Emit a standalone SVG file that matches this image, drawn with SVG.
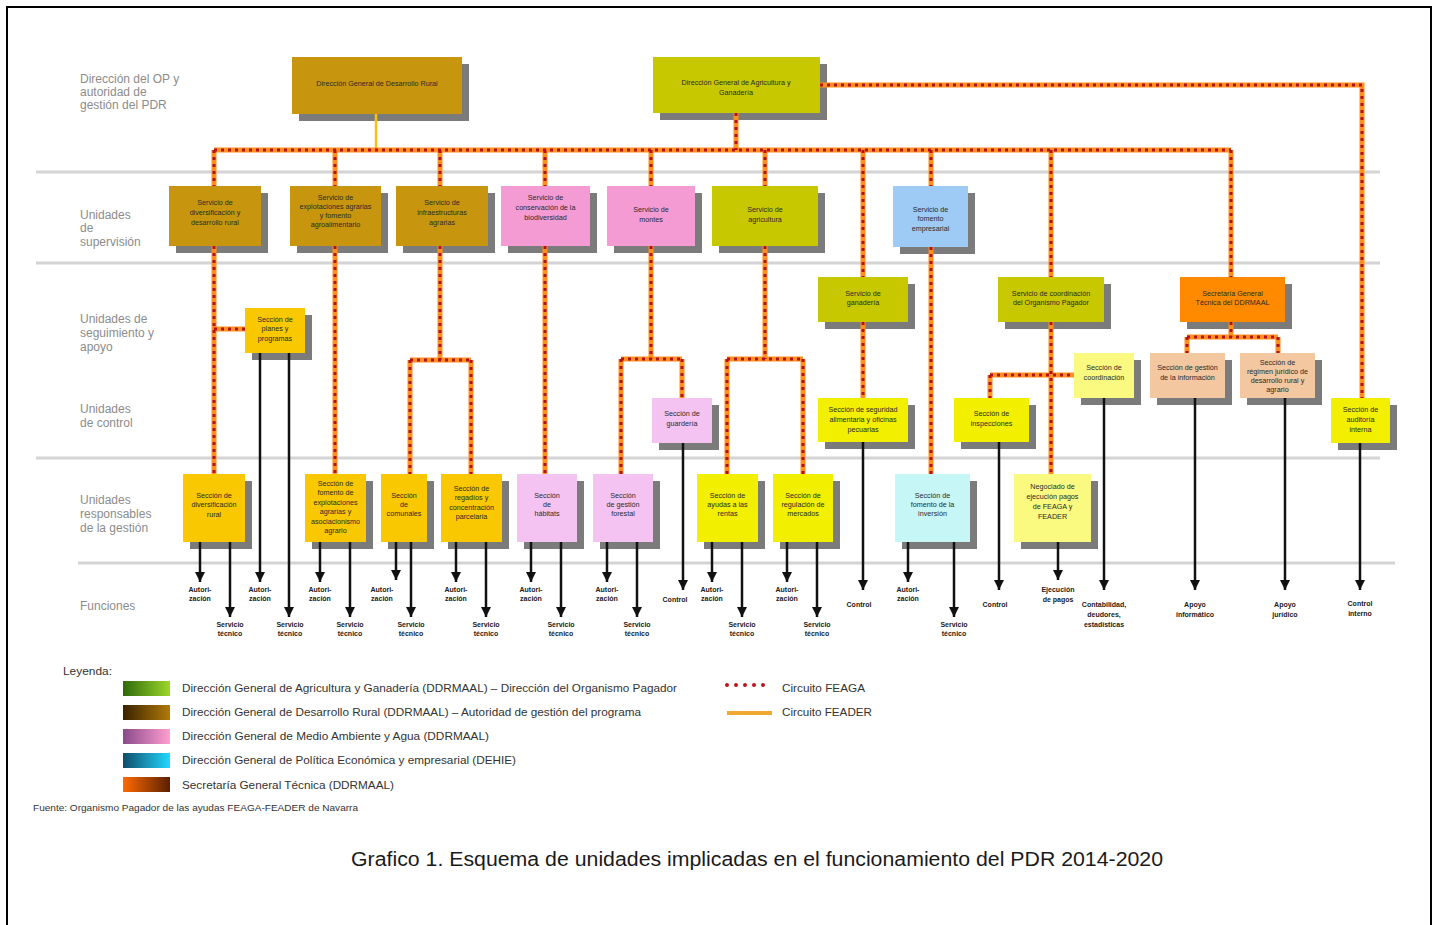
<svg xmlns="http://www.w3.org/2000/svg" width="1438" height="925" viewBox="0 0 1438 925">
<style>
text{font-family:"Liberation Sans",Arial,sans-serif}
.lbl{font-size:12px;fill:#8c8c8c}
.bt{font-size:7.2px;fill:#2a2a2a;text-anchor:middle}
.fn{font-size:7px;font-weight:bold;fill:#1a1a1a;text-anchor:middle}
.sh{fill:#7b7b7b}
.sep{stroke:#d4d4d4;stroke-width:3}
.feaga-base path{fill:none;stroke:#FF8F1F;stroke-width:5}
.feaga-dots path{fill:none;stroke:#B5121B;stroke-width:3;stroke-dasharray:3 4}
.feader{fill:none;stroke:#F3C21A;stroke-width:2.5}
.arr{fill:none;stroke:#111;stroke-width:2.5;marker-end:url(#ah)}
.leg{font-size:11px;fill:#333}
.c-gold{fill:#C8960E}.c-olive{fill:#C8C800}.c-pink{fill:#F59BD4}.c-blue{fill:#9DCBF6}.c-orange{fill:#FF8A00}
.c-sec{fill:#F9C800}.c-lpink{fill:#F5C3F2}.c-yel{fill:#F2EF00}.c-lyel{fill:#FAFA80}.c-peach{fill:#F3C79F}.c-cyan{fill:#C6F6F6}
</style>
<defs>
<marker id="ah" viewBox="0 0 10 10" refX="10" refY="5" markerWidth="10" markerHeight="10" markerUnits="userSpaceOnUse" orient="auto"><path d="M0,0 L10,5 L0,10 z" fill="#111"/></marker>
<linearGradient id="g1"><stop offset="0" stop-color="#2f6a0a"/><stop offset="1" stop-color="#9BD62A"/></linearGradient>
<linearGradient id="g2"><stop offset="0" stop-color="#3a2200"/><stop offset="1" stop-color="#B07A0A"/></linearGradient>
<linearGradient id="g3"><stop offset="0" stop-color="#8a4a8a"/><stop offset="1" stop-color="#FF9ED0"/></linearGradient>
<linearGradient id="g4"><stop offset="0" stop-color="#0f4d6a"/><stop offset="1" stop-color="#22D8FF"/></linearGradient>
<linearGradient id="g5"><stop offset="0" stop-color="#FF6A00"/><stop offset="1" stop-color="#5a2000"/></linearGradient>
</defs>
<rect x="0" y="0" width="1438" height="925" fill="#fff"/>
<rect x="7" y="7" width="1424" height="940" fill="none" stroke="#000" stroke-width="2"/>

<g id="separators">
<line class="sep" x1="36" y1="172" x2="1380" y2="172"/>
<line class="sep" x1="36" y1="263" x2="1380" y2="263"/>
<line class="sep" x1="36" y1="458" x2="1380" y2="458"/>
<line class="sep" x1="78" y1="563" x2="1395" y2="563"/>
</g>

<g id="row-labels">
<text class="lbl" x="80" y="83">Dirección del OP y</text>
<text class="lbl" x="80" y="96">autoridad de</text>
<text class="lbl" x="80" y="109">gestión del PDR</text>
<text class="lbl" x="80" y="219">Unidades</text>
<text class="lbl" x="80" y="232">de</text>
<text class="lbl" x="80" y="246">supervisión</text>
<text class="lbl" x="80" y="323">Unidades de</text>
<text class="lbl" x="80" y="337">seguimiento y</text>
<text class="lbl" x="80" y="351">apoyo</text>
<text class="lbl" x="80" y="413">Unidades</text>
<text class="lbl" x="80" y="427">de control</text>
<text class="lbl" x="80" y="504">Unidades</text>
<text class="lbl" x="80" y="518">responsables</text>
<text class="lbl" x="80" y="532">de la gestión</text>
<text class="lbl" x="80" y="610">Funciones</text>
</g>

<g id="nodes">
<g id="n-dgdr"><rect class="sh" x="299" y="64" width="170" height="57"/><rect class="c-gold" x="292" y="57" width="170" height="57"/><text class="bt" x="377" y="86">Dirección General de Desarrollo Rural</text></g>
<g id="n-dgag"><rect class="sh" x="660" y="64" width="167" height="56"/><rect class="c-olive" x="653" y="57" width="167" height="56"/><text class="bt" x="736" y="85">Dirección General de Agricultura y</text><text class="bt" x="736" y="95">Ganadería</text></g>

<g id="n-s-div"><rect class="sh" x="176" y="193" width="92" height="60"/><rect class="c-gold" x="169" y="186" width="92" height="60"/><text class="bt" x="215" y="204.5">Servicio de</text><text class="bt" x="215" y="214.5">diversificación y</text><text class="bt" x="215" y="224.5">desarrollo rural</text></g>
<g id="n-s-expl"><rect class="sh" x="297" y="193" width="91" height="60"/><rect class="c-gold" x="290" y="186" width="91" height="60"/><text class="bt" x="335.5" y="199.5">Servicio de</text><text class="bt" x="335.5" y="208.5">explotaciones agrarias</text><text class="bt" x="335.5" y="217.5">y fomento</text><text class="bt" x="335.5" y="226.5">agroalimentario</text></g>
<g id="n-s-infra"><rect class="sh" x="403" y="193" width="92" height="60"/><rect class="c-gold" x="396" y="186" width="92" height="60"/><text class="bt" x="442" y="204.5">Servicio de</text><text class="bt" x="442" y="214.5">infraestructuras</text><text class="bt" x="442" y="224.5">agrarias</text></g>
<g id="n-s-cons"><rect class="sh" x="508" y="193" width="89" height="60"/><rect class="c-pink" x="501" y="186" width="89" height="60"/><text class="bt" x="545.5" y="200">Servicio de</text><text class="bt" x="545.5" y="209.5">conservación de la</text><text class="bt" x="545.5" y="219.5">biodiversidad</text></g>
<g id="n-s-montes"><rect class="sh" x="614" y="193" width="88" height="60"/><rect class="c-pink" x="607" y="186" width="88" height="60"/><text class="bt" x="651" y="211.5">Servicio de</text><text class="bt" x="651" y="221.5">montes</text></g>
<g id="n-s-agri"><rect class="sh" x="719" y="193" width="106" height="60"/><rect class="c-olive" x="712" y="186" width="106" height="60"/><text class="bt" x="765" y="211.5">Servicio de</text><text class="bt" x="765" y="221.5">agricultura</text></g>
<g id="n-s-fomento"><rect class="sh" x="900" y="193" width="75" height="61"/><rect class="c-blue" x="893" y="186" width="75" height="61"/><text class="bt" x="930.5" y="211.5">Servicio de</text><text class="bt" x="930.5" y="220.5">fomento</text><text class="bt" x="930.5" y="230.5">empresarial</text></g>

<g id="n-ganaderia"><rect class="sh" x="825" y="284" width="90" height="45"/><rect class="c-olive" x="818" y="277" width="90" height="45"/><text class="bt" x="863" y="295.5">Servicio de</text><text class="bt" x="863" y="304.5">ganadería</text></g>
<g id="n-coord-op"><rect class="sh" x="1005" y="284" width="106" height="45"/><rect class="c-olive" x="998" y="277" width="106" height="45"/><text class="bt" x="1051" y="295.5">Servicio de coordinación</text><text class="bt" x="1051" y="304.5">del Organismo Pagador</text></g>
<g id="n-sgt"><rect class="sh" x="1187" y="284" width="105" height="45"/><rect class="c-orange" x="1180" y="277" width="105" height="45"/><text class="bt" x="1232.5" y="295.5">Secretaría General</text><text class="bt" x="1232.5" y="304.5">Técnica del DDRMAAL</text></g>
<g id="n-planes"><rect class="sh" x="252" y="315" width="60" height="45"/><rect class="c-sec" x="245" y="308" width="60" height="45"/><text class="bt" x="275" y="321.5">Sección de</text><text class="bt" x="275" y="331">planes y</text><text class="bt" x="275" y="340.5">programas</text></g>
<g id="n-sec-coord"><rect class="sh" x="1081" y="360" width="60" height="45"/><rect class="c-lyel" x="1074" y="353" width="60" height="45"/><text class="bt" x="1104" y="369.5">Sección de</text><text class="bt" x="1104" y="379.5">coordinación</text></g>
<g id="n-gestion-info"><rect class="sh" x="1157" y="360" width="75" height="45"/><rect class="c-peach" x="1150" y="353" width="75" height="45"/><text class="bt" x="1187.5" y="369.5">Sección de gestión</text><text class="bt" x="1187.5" y="379.5">de la información</text></g>
<g id="n-regimen"><rect class="sh" x="1247" y="360" width="75" height="45"/><rect class="c-peach" x="1240" y="353" width="75" height="45"/><text class="bt" x="1277.5" y="364.5">Sección de</text><text class="bt" x="1277.5" y="373.5">régimen jurídico de</text><text class="bt" x="1277.5" y="382.5">desarrollo rural y</text><text class="bt" x="1277.5" y="391.5">agrario</text></g>

<g id="n-guarderia"><rect class="sh" x="659" y="405" width="60" height="45"/><rect class="c-lpink" x="652" y="398" width="60" height="45"/><text class="bt" x="682" y="415.5">Sección de</text><text class="bt" x="682" y="425.5">guardería</text></g>
<g id="n-seg-alim"><rect class="sh" x="825" y="405" width="90" height="44"/><rect class="c-yel" x="818" y="398" width="90" height="44"/><text class="bt" x="863" y="411.5">Sección de seguridad</text><text class="bt" x="863" y="421.5">alimentaria y oficinas</text><text class="bt" x="863" y="431.5">pecuarias</text></g>
<g id="n-inspecciones"><rect class="sh" x="961" y="405" width="75" height="44"/><rect class="c-yel" x="954" y="398" width="75" height="44"/><text class="bt" x="991.5" y="415.5">Sección de</text><text class="bt" x="991.5" y="425.5">inspecciones</text></g>
<g id="n-auditoria"><rect class="sh" x="1338" y="405" width="59" height="45"/><rect class="c-yel" x="1331" y="398" width="59" height="45"/><text class="bt" x="1360.5" y="411.5">Sección de</text><text class="bt" x="1360.5" y="421.5">auditoría</text><text class="bt" x="1360.5" y="431.5">interna</text></g>

<g id="n-r-div"><rect class="sh" x="190" y="481" width="62" height="68"/><rect class="c-sec" x="183" y="474" width="62" height="68"/><text class="bt" x="214" y="497.5">Sección de</text><text class="bt" x="214" y="507">diversificación</text><text class="bt" x="214" y="516.5">rural</text></g>
<g id="n-r-expl"><rect class="sh" x="312" y="481" width="61" height="68"/><rect class="c-sec" x="305" y="474" width="61" height="68"/><text class="bt" x="335.5" y="485.5">Sección de</text><text class="bt" x="335.5" y="495">fomento de</text><text class="bt" x="335.5" y="504.5">explotaciones</text><text class="bt" x="335.5" y="514">agrarias y</text><text class="bt" x="335.5" y="523.5">asociacionismo</text><text class="bt" x="335.5" y="533">agrario</text></g>
<g id="n-r-comunales"><rect class="sh" x="388" y="481" width="46" height="68"/><rect class="c-sec" x="381" y="474" width="46" height="68"/><text class="bt" x="404" y="497.5">Sección</text><text class="bt" x="404" y="506.5">de</text><text class="bt" x="404" y="515.5">comunales</text></g>
<g id="n-r-regadios"><rect class="sh" x="448" y="481" width="61" height="68"/><rect class="c-sec" x="441" y="474" width="61" height="68"/><text class="bt" x="471.5" y="490.5">Sección de</text><text class="bt" x="471.5" y="500">regadíos y</text><text class="bt" x="471.5" y="509.5">concentración</text><text class="bt" x="471.5" y="519">parcelaria</text></g>
<g id="n-r-habitats"><rect class="sh" x="524" y="481" width="60" height="68"/><rect class="c-lpink" x="517" y="474" width="60" height="68"/><text class="bt" x="547" y="497.5">Sección</text><text class="bt" x="547" y="506.5">de</text><text class="bt" x="547" y="515.5">hábitats</text></g>
<g id="n-r-forestal"><rect class="sh" x="600" y="481" width="60" height="68"/><rect class="c-lpink" x="593" y="474" width="60" height="68"/><text class="bt" x="623" y="497.5">Sección</text><text class="bt" x="623" y="506.5">de gestión</text><text class="bt" x="623" y="515.5">forestal</text></g>
<g id="n-r-ayudas"><rect class="sh" x="704" y="481" width="61" height="68"/><rect class="c-yel" x="697" y="474" width="61" height="68"/><text class="bt" x="727.5" y="497.5">Sección de</text><text class="bt" x="727.5" y="506.5">ayudas a las</text><text class="bt" x="727.5" y="515.5">rentas</text></g>
<g id="n-r-regulacion"><rect class="sh" x="780" y="481" width="60" height="68"/><rect class="c-yel" x="773" y="474" width="60" height="68"/><text class="bt" x="803" y="497.5">Sección de</text><text class="bt" x="803" y="506.5">regulación de</text><text class="bt" x="803" y="515.5">mercados</text></g>
<g id="n-r-inversion"><rect class="sh" x="902" y="481" width="75" height="68"/><rect class="c-cyan" x="895" y="474" width="75" height="68"/><text class="bt" x="932.5" y="497.5">Sección de</text><text class="bt" x="932.5" y="506.5">fomento de la</text><text class="bt" x="932.5" y="515.5">inversión</text></g>
<g id="n-r-negociado"><rect class="sh" x="1021" y="481" width="77" height="68"/><rect class="c-lyel" x="1014" y="474" width="77" height="68"/><text class="bt" x="1052.5" y="488.5">Negociado de</text><text class="bt" x="1052.5" y="498.5">ejecución pagos</text><text class="bt" x="1052.5" y="508.5">de FEAGA y</text><text class="bt" x="1052.5" y="518.5">FEADER</text></g>
</g>

<g id="connectors">
<path class="feader" d="M376,114 V150"/>
<g class="feaga-base">
<path d="M736,113 V150"/><path d="M820,85 H1362 V398"/><path d="M214,150 H1231"/>
<path d="M214,150 V186"/><path d="M335,150 V186"/><path d="M440,150 V186"/><path d="M545,150 V186"/><path d="M651,150 V186"/><path d="M765,150 V186"/><path d="M863,150 V277"/><path d="M931,150 V186"/><path d="M1051,150 V277"/><path d="M1231,150 V277"/>
<path d="M214,246 V474"/><path d="M214,329 H245"/><path d="M335,246 V474"/>
<path d="M440,246 V360"/><path d="M410,360 H471"/><path d="M410,360 V474"/><path d="M471,360 V474"/>
<path d="M545,246 V474"/>
<path d="M651,246 V359"/><path d="M621,359 H682"/><path d="M621,359 V474"/><path d="M682,359 V398"/>
<path d="M765,246 V359"/><path d="M727,359 H803"/><path d="M727,359 V474"/><path d="M803,359 V474"/>
<path d="M863,322 V398"/><path d="M931,247 V474"/><path d="M1051,322 V474"/>
<path d="M990,375 H1074"/><path d="M990,375 V398"/>
<path d="M1231,322 V337"/><path d="M1187,337 H1278"/><path d="M1187,337 V353"/><path d="M1278,337 V353"/>
</g>
<g class="feaga-dots">
<path d="M736,113 V150"/><path d="M820,85 H1362 V398"/><path d="M214,150 H1231"/>
<path d="M214,150 V186"/><path d="M335,150 V186"/><path d="M440,150 V186"/><path d="M545,150 V186"/><path d="M651,150 V186"/><path d="M765,150 V186"/><path d="M863,150 V277"/><path d="M931,150 V186"/><path d="M1051,150 V277"/><path d="M1231,150 V277"/>
<path d="M214,246 V474"/><path d="M214,329 H245"/><path d="M335,246 V474"/>
<path d="M440,246 V360"/><path d="M410,360 H471"/><path d="M410,360 V474"/><path d="M471,360 V474"/>
<path d="M545,246 V474"/>
<path d="M651,246 V359"/><path d="M621,359 H682"/><path d="M621,359 V474"/><path d="M682,359 V398"/>
<path d="M765,246 V359"/><path d="M727,359 H803"/><path d="M727,359 V474"/><path d="M803,359 V474"/>
<path d="M863,322 V398"/><path d="M931,247 V474"/><path d="M1051,322 V474"/>
<path d="M990,375 H1074"/><path d="M990,375 V398"/>
<path d="M1231,322 V337"/><path d="M1187,337 H1278"/><path d="M1187,337 V353"/><path d="M1278,337 V353"/>
</g>
<g id="function-arrows">
<path class="arr" d="M200,542 V582"/><path class="arr" d="M230,542 V617"/>
<path class="arr" d="M260,353 V582"/><path class="arr" d="M289,353 V617"/>
<path class="arr" d="M320,542 V582"/><path class="arr" d="M350,542 V617"/>
<path class="arr" d="M396,542 V580"/><path class="arr" d="M411,542 V617"/>
<path class="arr" d="M456,542 V582"/><path class="arr" d="M486,542 V617"/>
<path class="arr" d="M531,542 V582"/><path class="arr" d="M561,542 V617"/>
<path class="arr" d="M607,542 V582"/><path class="arr" d="M637,542 V617"/>
<path class="arr" d="M683,443 V590"/>
<path class="arr" d="M712,542 V582"/><path class="arr" d="M742,542 V617"/>
<path class="arr" d="M787,542 V582"/><path class="arr" d="M817,542 V617"/>
<path class="arr" d="M863,442 V590"/>
<path class="arr" d="M908,542 V582"/><path class="arr" d="M954,542 V617"/>
<path class="arr" d="M999,442 V590"/>
<path class="arr" d="M1058,542 V580"/>
<path class="arr" d="M1104,398 V590"/>
<path class="arr" d="M1195,398 V590"/>
<path class="arr" d="M1285,398 V590"/>
<path class="arr" d="M1360,443 V590"/>
</g>
</g>

<g id="function-labels">
<text class="fn" x="200" y="592">Autori-</text><text class="fn" x="200" y="601">zación</text>
<text class="fn" x="230" y="627">Servicio</text><text class="fn" x="230" y="636">técnico</text>
<text class="fn" x="260" y="592">Autori-</text><text class="fn" x="260" y="601">zación</text>
<text class="fn" x="290" y="627">Servicio</text><text class="fn" x="290" y="636">técnico</text>
<text class="fn" x="320" y="592">Autori-</text><text class="fn" x="320" y="601">zación</text>
<text class="fn" x="350" y="627">Servicio</text><text class="fn" x="350" y="636">técnico</text>
<text class="fn" x="382" y="592">Autori-</text><text class="fn" x="382" y="601">zación</text>
<text class="fn" x="411" y="627">Servicio</text><text class="fn" x="411" y="636">técnico</text>
<text class="fn" x="456" y="592">Autori-</text><text class="fn" x="456" y="601">zación</text>
<text class="fn" x="486" y="627">Servicio</text><text class="fn" x="486" y="636">técnico</text>
<text class="fn" x="531" y="592">Autori-</text><text class="fn" x="531" y="601">zación</text>
<text class="fn" x="561" y="627">Servicio</text><text class="fn" x="561" y="636">técnico</text>
<text class="fn" x="607" y="592">Autori-</text><text class="fn" x="607" y="601">zación</text>
<text class="fn" x="637" y="627">Servicio</text><text class="fn" x="637" y="636">técnico</text>
<text class="fn" x="675" y="602">Control</text>
<text class="fn" x="712" y="592">Autori-</text><text class="fn" x="712" y="601">zación</text>
<text class="fn" x="742" y="627">Servicio</text><text class="fn" x="742" y="636">técnico</text>
<text class="fn" x="787" y="592">Autori-</text><text class="fn" x="787" y="601">zación</text>
<text class="fn" x="817" y="627">Servicio</text><text class="fn" x="817" y="636">técnico</text>
<text class="fn" x="859" y="607">Control</text>
<text class="fn" x="908" y="592">Autori-</text><text class="fn" x="908" y="601">zación</text>
<text class="fn" x="954" y="627">Servicio</text><text class="fn" x="954" y="636">técnico</text>
<text class="fn" x="995" y="607">Control</text>
<text class="fn" x="1058" y="592">Ejecución</text><text class="fn" x="1058" y="602">de pagos</text>
<text class="fn" x="1104" y="607">Contabilidad,</text><text class="fn" x="1104" y="617">deudores,</text><text class="fn" x="1104" y="627">estadísticas</text>
<text class="fn" x="1195" y="607">Apoyo</text><text class="fn" x="1195" y="617">informático</text>
<text class="fn" x="1285" y="607">Apoyo</text><text class="fn" x="1285" y="617">jurídico</text>
<text class="fn" x="1360" y="606">Control</text><text class="fn" x="1360" y="616">interno</text>
</g>

<g id="legend">
<text class="leg" x="63" y="675" style="font-size:10px" textLength="49" lengthAdjust="spacingAndGlyphs">Leyenda:</text>
<rect x="123" y="681" width="47" height="15" fill="url(#g1)"/>
<rect x="123" y="705" width="47" height="15" fill="url(#g2)"/>
<rect x="123" y="729" width="47" height="15" fill="url(#g3)"/>
<rect x="123" y="753" width="47" height="15" fill="url(#g4)"/>
<rect x="123" y="777" width="47" height="15" fill="url(#g5)"/>
<text class="leg" x="182" y="692" textLength="495" lengthAdjust="spacingAndGlyphs">Dirección General de Agricultura y Ganadería (DDRMAAL) – Dirección del Organismo Pagador</text>
<text class="leg" x="182" y="716" textLength="459" lengthAdjust="spacingAndGlyphs">Dirección General de Desarrollo Rural (DDRMAAL) – Autoridad de gestión del programa</text>
<text class="leg" x="182" y="740" textLength="307" lengthAdjust="spacingAndGlyphs">Dirección General de Medio Ambiente y Agua (DDRMAAL)</text>
<text class="leg" x="182" y="764" textLength="334" lengthAdjust="spacingAndGlyphs">Dirección General de Política Económica y empresarial (DEHIE)</text>
<text class="leg" x="182" y="789" textLength="212" lengthAdjust="spacingAndGlyphs">Secretaría General Técnica (DDRMAAL)</text>
<path d="M727,685 H768" stroke="#C0101A" stroke-width="4" stroke-linecap="round" stroke-dasharray="0 9" fill="none"/>
<text class="leg" x="782" y="692" textLength="83" lengthAdjust="spacingAndGlyphs">Circuito FEAGA</text>
<path d="M727,713 H772" stroke="#F0A830" stroke-width="4" fill="none"/>
<text class="leg" x="782" y="716" textLength="90" lengthAdjust="spacingAndGlyphs">Circuito FEADER</text>
<text class="leg" x="33" y="811" style="font-size:9px" textLength="325" lengthAdjust="spacingAndGlyphs">Fuente: Organismo Pagador de las ayudas FEAGA-FEADER de Navarra</text>
</g>

<text x="351" y="866" style="font-size:20px;fill:#1a1a1a" textLength="812" lengthAdjust="spacingAndGlyphs">Grafico 1. Esquema de unidades implicadas en el funcionamiento del PDR 2014-2020</text>
</svg>
